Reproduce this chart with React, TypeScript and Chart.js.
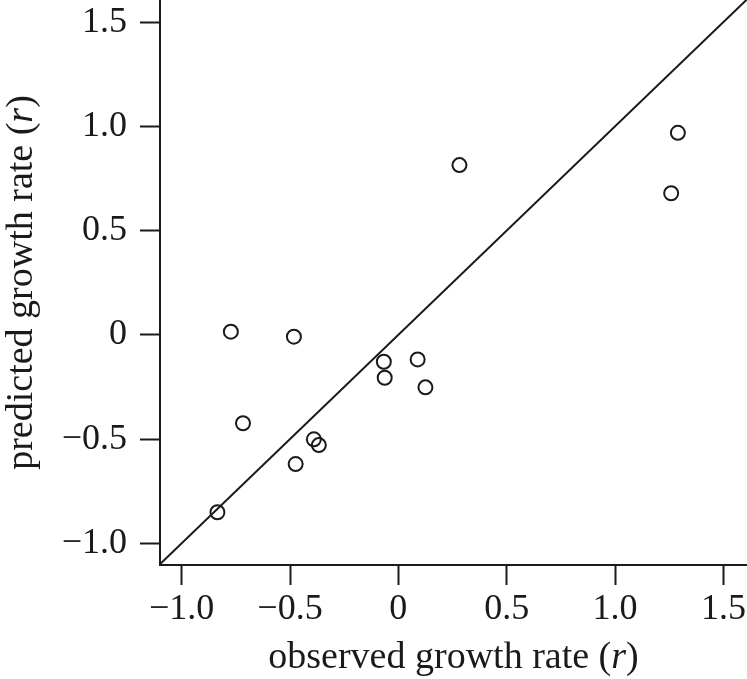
import React, { useEffect, useRef } from 'react';
import { Chart, registerables } from 'chart.js';

Chart.register(...registerables);

// ---- data ----
const OBSERVED = [-0.835, -0.773, -0.717, -0.482, -0.474, -0.390, -0.367, -0.067, -0.063, 0.089, 0.125, 0.282, 1.259, 1.290];
const PREDICTED = [-0.851, 0.015, -0.424, -0.009, -0.620, -0.501, -0.529, -0.129, -0.206, -0.118, -0.252, 0.814, 0.679, 0.969];

const X_TICKS = [-1.0, -0.5, 0, 0.5, 1.0, 1.5];
const X_TICK_LABELS = ['−1.0', '−0.5', '0', '0.5', '1.0', '1.5'];
const Y_TICKS = [-1.0, -0.5, 0, 0.5, 1.0, 1.5];
const Y_TICK_LABELS = ['−1.0', '−0.5', '0', '0.5', '1.0', '1.5'];

const X_RANGE = [-1.1, 1.609];
const Y_RANGE = [-1.104, 1.606];

// 1:1 reference line (y = x), extended past the axes and clipped
const IDENTITY_X = [-1.3, 1.8];

const X_TITLE = ['observed growth rate (', 'r', ')'];
const Y_TITLE = ['predicted growth rate (', 'r', ')'];

const INK = '#1a1a1a';
const FAMILY = "'Liberation Serif', 'Times New Roman', Times, serif";
const TICK_SIZE = 36;
const TITLE_SIZE = 38;
const STROKE = 2;

function drawMixed(ctx: CanvasRenderingContext2D, parts: string[], cx: number, baseline: number) {
  const fonts = parts.map((_, i) => (i === 1 ? `italic ${TITLE_SIZE}px ${FAMILY}` : `${TITLE_SIZE}px ${FAMILY}`));
  const widths = parts.map((p, i) => {
    ctx.font = fonts[i];
    return ctx.measureText(p).width;
  });
  const total = widths.reduce((a, b) => a + b, 0);
  let x = cx - total / 2;
  ctx.textAlign = 'left';
  ctx.textBaseline = 'alphabetic';
  ctx.fillStyle = INK;
  parts.forEach((p, i) => {
    ctx.font = fonts[i];
    ctx.fillText(p, x, baseline);
    x += widths[i];
  });
}

const titlePlugin = {
  id: 'mixedTitles',
  afterDraw(chart: any) {
    const ctx = chart.ctx as CanvasRenderingContext2D;
    const ca = chart.chartArea;
    ctx.save();
    drawMixed(ctx, X_TITLE, (ca.left + ca.right) / 2, 668);
    ctx.restore();
    ctx.save();
    ctx.translate(32, (ca.top + ca.bottom) / 2);
    ctx.rotate(-Math.PI / 2);
    drawMixed(ctx, Y_TITLE, 0, 0);
    ctx.restore();
  },
};

export default function App() {
  const ref = useRef<HTMLCanvasElement | null>(null);

  useEffect(() => {
    if (!ref.current) return;
    const points = OBSERVED.map((x, i) => ({ x, y: PREDICTED[i] }));
    const identity = IDENTITY_X.map((v) => ({ x: v, y: v }));

    const tickFont = { family: FAMILY, size: TICK_SIZE };
    const grid = {
      display: true,
      drawOnChartArea: false,
      drawTicks: true,
      tickLength: 20,
      tickWidth: STROKE,
      tickColor: INK,
      color: INK,
    };
    const border = { display: true, color: INK, width: STROKE };

    const chart = new Chart(ref.current, {
      type: 'scatter',
      data: {
        datasets: [
          {
            data: points,
            showLine: false,
            pointRadius: 7,
            pointHoverRadius: 7,
            pointBorderWidth: STROKE,
            pointBackgroundColor: 'rgba(0,0,0,0)',
            pointBorderColor: INK,
          },
          {
            data: identity,
            showLine: true,
            borderColor: INK,
            borderWidth: STROKE,
            pointRadius: 0,
            fill: false,
          },
        ],
      } as any,
      options: {
        animation: false,
        responsive: false,
        maintainAspectRatio: false,
        devicePixelRatio: 1,
        layout: { padding: 0, autoPadding: false },
        plugins: { legend: { display: false }, tooltip: { enabled: false }, title: { display: false } },
        scales: {
          x: {
            type: 'linear',
            min: X_RANGE[0],
            max: X_RANGE[1],
            grid,
            border,
            afterBuildTicks: (s: any) => {
              s.ticks = X_TICKS.map((v) => ({ value: v }));
            },
            afterFit: (s: any) => {
              s.height = 114;
              s.paddingLeft = 0;
              s.paddingRight = 0;
            },
            ticks: {
              autoSkip: false,
              maxRotation: 0,
              padding: 3,
              color: INK,
              font: tickFont,
              callback: (v: any) => {
                const i = X_TICKS.indexOf(Number(v));
                return i >= 0 ? X_TICK_LABELS[i] : '';
              },
            },
          },
          y: {
            type: 'linear',
            min: Y_RANGE[0],
            max: Y_RANGE[1],
            grid,
            border,
            afterBuildTicks: (s: any) => {
              s.ticks = Y_TICKS.map((v) => ({ value: v }));
            },
            afterFit: (s: any) => {
              s.width = 160;
              s.paddingTop = 0;
              s.paddingBottom = 0;
            },
            ticks: {
              autoSkip: false,
              padding: 13,
              color: INK,
              font: tickFont,
              callback: (v: any) => {
                const i = Y_TICKS.indexOf(Number(v));
                return i >= 0 ? Y_TICK_LABELS[i] : '';
              },
            },
          },
        },
      } as any,
      plugins: [titlePlugin],
    });
    return () => chart.destroy();
  }, []);

  return (
    <div style={{ position: 'absolute', left: 0, top: 0, width: 747, height: 679, background: '#fff' }}>
      <canvas ref={ref} width={747} height={679} style={{ width: 747, height: 679, display: 'block' }} />
    </div>
  );
}
